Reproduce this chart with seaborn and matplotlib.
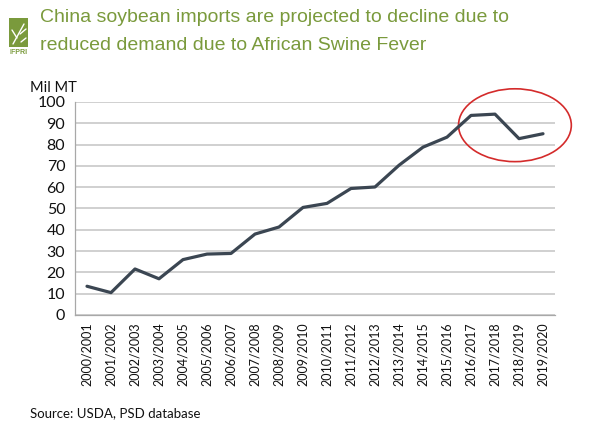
import matplotlib
matplotlib.use("Agg")
import matplotlib.pyplot as plt
from matplotlib.patches import Ellipse, Rectangle
from matplotlib.lines import Line2D
import seaborn as sns
import pandas as pd
import numpy as np

seasons = ["2000/2001", "2001/2002", "2002/2003", "2003/2004", "2004/2005",
           "2005/2006", "2006/2007", "2007/2008", "2008/2009", "2009/2010",
           "2010/2011", "2011/2012", "2012/2013", "2013/2014", "2014/2015",
           "2015/2016", "2016/2017", "2017/2018", "2018/2019", "2019/2020"]
imports = [13.5, 10.5, 21.6, 17.0, 26.0, 28.6, 28.9, 38.0, 41.3, 50.5,
           52.4, 59.4, 60.1, 70.3, 78.8, 83.5, 93.7, 94.3, 82.8, 85.1]
y_ticks = [0, 10, 20, 30, 40, 50, 60, 70, 80, 90, 100]

df = pd.DataFrame({"season": seasons, "imports": imports, "x": np.arange(len(seasons))})

sns.set_style("white")
plt.rcParams['font.family'] = ['Lato', 'DejaVu Sans']

fig = plt.figure(figsize=(5.9, 4.43), dpi=100)
ax = fig.add_axes([75/590, 1-315/443, 480/590, 213/443])

sns.lineplot(data=df, x="x", y="imports", ax=ax, color="#3b4652", linewidth=2.3)

ax.set_xlim(-0.5, len(seasons) - 0.5)
ax.set_ylim(0, 100)
ax.set_yticks(y_ticks)
ax.set_yticklabels([str(v) for v in y_ticks], fontsize=11.5, color="#111111")
ax.set_xticks(np.arange(len(seasons)))
ax.set_xticklabels(seasons, rotation=90, fontsize=9, color="#111111")
ax.set_xticks(np.arange(len(seasons) + 1) - 0.5, minor=True)
ax.tick_params(axis="x", which="major", length=0, pad=5)
ax.tick_params(axis="x", which="minor", length=4, color="#a0a0a0", width=0.8)
ax.tick_params(axis="y", which="major", length=4, color="#a0a0a0", width=0.8, pad=3)
ax.set_xlabel("")
ax.set_ylabel("")
ax.grid(axis="y", color="#c4c4c4", linewidth=1.1)
ax.set_axisbelow(True)
for s in ["top", "right"]:
    ax.spines[s].set_visible(False)
for s in ["left", "bottom"]:
    ax.spines[s].set_color("#a8a8a8")
    ax.spines[s].set_linewidth(0.9)

ell = Ellipse((17.83, 89.1), width=4.7, height=34.2, fill=False,
              edgecolor="#d42b2b", linewidth=1.2, clip_on=False)
ax.add_patch(ell)

fig.text(30/590, 1-88/443, "Mil MT", fontsize=10.5, color="#111111", va="center", ha="left")

title_color = "#7a9a3c"
fig.text(40/590, 1-17/443, "China soybean imports are projected to decline due to",
         fontsize=14, color=title_color, va="center", ha="left", family=["Liberation Sans", "DejaVu Sans"])
fig.text(40/590, 1-45/443, "reduced demand due to African Swine Fever",
         fontsize=14, color=title_color, va="center", ha="left", family=["Liberation Sans", "DejaVu Sans"])

# simple logo block
fig.patches.append(Rectangle((9/590, 1-47/443), 19/590, 29/443, transform=fig.transFigure,
                             facecolor=title_color, edgecolor="none"))
for (x0, y0, x1, y1) in [(13, 44, 24, 24), (17, 38, 12, 30), (20, 34, 26, 29), (21, 42, 26, 38)]:
    fig.lines.append(Line2D([x0/590, x1/590], [1-y0/443, 1-y1/443], transform=fig.transFigure,
                            color="white", linewidth=1.0))
fig.text(18.5/590, 1-53/443, "IFPRI", fontsize=5, color=title_color, ha="center", va="center",
         fontweight="bold", family=["Liberation Sans", "DejaVu Sans"])

fig.text(30/590, 1-413/443, "Source: USDA, PSD database", fontsize=9.5, color="#111111",
         va="center", ha="left")

fig.savefig("out.png", dpi=100, facecolor="white")
